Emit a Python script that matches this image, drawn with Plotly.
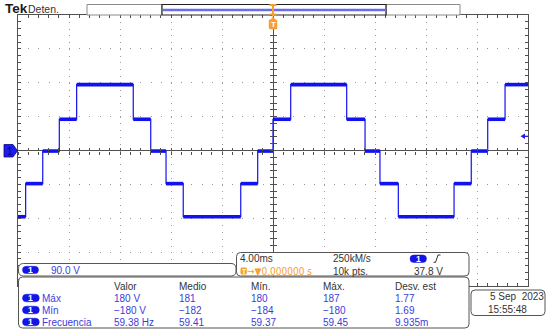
import plotly.graph_objects as go

# ---------------- data ----------------
t_start_ms, t_end_ms = -20.0, 20.0          # 10 div x 4.00 ms, trigger at centre
edge_times_ms = [-19.40, -18.06, -16.76, -15.40, -10.96, -9.59, -8.39, -7.04,
                 -2.53, -1.20, 0.00, 1.39, 5.78, 7.22, 8.39, 9.83,
                 14.20, 15.55, 16.84, 18.20]
step_levels_v = [-176, -88, -1.5, 83, 175, 83, -1.5, -88, -176, -88, -1.5,
                 83, 175, 83, -1.5, -88, -176, -88, -1.5, 83, 175]
volts_per_div = 90.0
trigger_level_v = 37.8

meas_headers = ["Valor", "Medio", "Mín.", "Máx.", "Desv. est"]
meas_rows = ["Máx", "Mín", "Frecuencia"]
meas_valor = ["180 V", "−180 V", "59.38 Hz"]
meas_medio = ["181", "−182", "59.41"]
meas_min = ["180", "−184", "59.37"]
meas_max = ["187", "−180", "59.45"]
meas_desv = ["1.77", "1.69", "9.935m"]

# ---------------- geometry helpers ----------------
W, H = 550, 334
ML, MR, MT, MB = 18, 22, 15, 48
PW, PH = W - ML - MR, H - MT - MB


def X(px):
    return (px - ML) / PW


def Y(py):
    return (H - MB - py) / PH


def rrect(x0, y0, x1, y1, r):
    return (f"M{X(x0 + r)},{Y(y0)} L{X(x1 - r)},{Y(y0)} Q{X(x1)},{Y(y0)} {X(x1)},{Y(y0 + r)} "
            f"L{X(x1)},{Y(y1 - r)} Q{X(x1)},{Y(y1)} {X(x1 - r)},{Y(y1)} "
            f"L{X(x0 + r)},{Y(y1)} Q{X(x0)},{Y(y1)} {X(x0)},{Y(y1 - r)} "
            f"L{X(x0)},{Y(y0 + r)} Q{X(x0)},{Y(y0)} {X(x0 + r)},{Y(y0)} Z")


FONT = "Liberation Sans, Arial, sans-serif"
BLUE_TXT = "#3c3cdc"
DARK_TXT = "#333333"
ORANGE = "#f5a030"
PILL = "#1414e6"
BORDER = "#555555"
AXC = "#505050"
GRIDC = "#9a9a9a"
TRACE = "#1212f0"
NUM = 10       # numeric readouts
WORD = 10      # word labels

shapes, annos = [], []


def txt(s, x, y, color, size=NUM, anchor="left", family=FONT):
    annos.append(dict(text=s, x=X(x), y=Y(y), xref="paper", yref="paper",
                      xanchor=anchor, yanchor="middle", showarrow=False,
                      font=dict(family=family, size=size, color=color),
                      borderpad=0, borderwidth=0))


def box(x0, y0, x1, y1, r, fill="white", line=BORDER, lw=1):
    shapes.append(dict(type="path", path=rrect(x0, y0, x1, y1, r), xref="paper", yref="paper",
                       fillcolor=fill, line=dict(color=line, width=lw), layer="above"))


def pill(x0, y0, x1, y1):
    box(x0, y0, x1, y1, (y1 - y0) / 2, fill=PILL, line=PILL, lw=0.5)
    txt("<b>1</b>", (x0 + x1) / 2, (y0 + y1) / 2 + 0.3, "white", size=8.5, anchor="center")


# ---------------- traces ----------------
bounds = [t_start_ms] + edge_times_ms + [t_end_ms]
fig = go.Figure()
fig.add_trace(go.Scatter(x=bounds, y=step_levels_v + [step_levels_v[-1]], mode="lines",
                         line=dict(color=TRACE, width=1.2, shape="hv"), hoverinfo="skip"))
fx, fy = [], []
for i, lv in enumerate(step_levels_v):
    fx += [bounds[i], bounds[i + 1], None]
    fy += [lv, lv, None]
fig.add_trace(go.Scatter(x=fx, y=fy, mode="lines", line=dict(color=TRACE, width=3.6),
                         hoverinfo="skip"))
# empty traces carrying the centre-crosshair tick axes
fig.add_trace(go.Scatter(x=[], y=[], xaxis="x2", yaxis="y2", hoverinfo="skip"))
fig.add_trace(go.Scatter(x=[], y=[], xaxis="x3", yaxis="y3", hoverinfo="skip"))

yr = [-4 * volts_per_div, 4 * volts_per_div]
xr = [t_start_ms, t_end_ms]
xdiv = (t_end_ms - t_start_ms) / 10
common = dict(showticklabels=False, fixedrange=True)
fig.update_layout(
    width=W, height=H, margin=dict(l=ML, r=MR, t=MT, b=MB, pad=0),
    paper_bgcolor="white", plot_bgcolor="white", showlegend=False,
    xaxis=dict(range=xr, tickmode="linear", tick0=0, dtick=xdiv, ticks="inside", ticklen=3,
               tickcolor=AXC, showgrid=True, gridcolor=GRIDC, griddash="1px,5.78px", gridwidth=1,
               zeroline=True, zerolinecolor=AXC, zerolinewidth=1, showline=True, linecolor=AXC,
               linewidth=1, mirror="ticks",
               minor=dict(tick0=0, dtick=xdiv / 5, ticks="inside", ticklen=3, tickcolor=AXC,
                          showgrid=False), **common),
    yaxis=dict(range=yr, tickmode="linear", tick0=0, dtick=volts_per_div, ticks="inside", ticklen=3,
               tickcolor=AXC, showgrid=True, gridcolor=GRIDC, griddash="1px,9.2px", gridwidth=1,
               zeroline=True, zerolinecolor=AXC, zerolinewidth=1, showline=True, linecolor=AXC,
               linewidth=1, mirror="ticks",
               minor=dict(tick0=0, dtick=volts_per_div / 5, ticks="inside", ticklen=3, tickcolor=AXC,
                          showgrid=False), **common),
    xaxis2=dict(overlaying="x", anchor="free", position=0.5, range=xr, tickmode="linear", tick0=0,
                dtick=xdiv, ticks="outside", ticklen=3, tickcolor=AXC, showgrid=False, zeroline=False,
                showline=False,
                minor=dict(tick0=0, dtick=xdiv / 5, ticks="outside", ticklen=3, tickcolor=AXC), **common),
    xaxis3=dict(overlaying="x", anchor="free", position=0.5, range=xr, tickmode="linear", tick0=0,
                dtick=xdiv, ticks="inside", ticklen=3, tickcolor=AXC, showgrid=False, zeroline=False,
                showline=False,
                minor=dict(tick0=0, dtick=xdiv / 5, ticks="inside", ticklen=3, tickcolor=AXC), **common),
    yaxis2=dict(overlaying="y", anchor="free", position=0.5, range=yr, tickmode="linear", tick0=0,
                dtick=volts_per_div, ticks="outside", ticklen=3, tickcolor=AXC, showgrid=False,
                zeroline=False, showline=False,
                minor=dict(tick0=0, dtick=volts_per_div / 5, ticks="outside", ticklen=3, tickcolor=AXC),
                **common),
    yaxis3=dict(overlaying="y", anchor="free", position=0.5, range=yr, tickmode="linear", tick0=0,
                dtick=volts_per_div, ticks="inside", ticklen=3, tickcolor=AXC, showgrid=False,
                zeroline=False, showline=False,
                minor=dict(tick0=0, dtick=volts_per_div / 5, ticks="inside", ticklen=3, tickcolor=AXC),
                **common),
)

# ---------------- header ----------------
txt("<b>Tek</b>", 5, 8.8, "#1a1a1a", size=13.5)
txt("Deten.", 27.5, 9.3, DARK_TXT, size=10.5)
shapes.append(dict(type="rect", xref="paper", yref="paper", x0=X(87), x1=X(162), y0=Y(4.5), y1=Y(15),
                   line=dict(color="#8a8a8a", width=1), fillcolor="white", layer="above"))
shapes.append(dict(type="rect", xref="paper", yref="paper", x0=X(386), x1=X(460), y0=Y(4.5), y1=Y(15),
                   line=dict(color="#8a8a8a", width=1), fillcolor="white", layer="above"))
shapes.append(dict(type="rect", xref="paper", yref="paper", x0=X(162), x1=X(386), y0=Y(4.5), y1=Y(15),
                   line=dict(color="#222222", width=1.2), fillcolor="white", layer="above"))
shapes.append(dict(type="rect", xref="paper", yref="paper", x0=X(163), x1=X(385), y0=Y(8.3), y1=Y(11.7),
                   line=dict(width=0), fillcolor="#cfcff5", layer="above"))
shapes.append(dict(type="line", xref="paper", yref="paper", x0=X(163), x1=X(385), y0=Y(10), y1=Y(10),
                   line=dict(color="#4a4ae0", width=1.4), layer="above"))
# trigger-position marker (time 0 = centre)
cx = ML + PW / 2
shapes.append(dict(type="rect", xref="paper", yref="paper", x0=X(cx - 1), x1=X(cx + 1), y0=Y(4), y1=Y(16.5),
                   line=dict(width=0), fillcolor=ORANGE, layer="above"))
shapes.append(dict(type="rect", xref="paper", yref="paper", x0=X(cx - 3.5), x1=X(cx + 3.5), y0=Y(4),
                   y1=Y(6), line=dict(width=0), fillcolor=ORANGE, layer="above"))
shapes.append(dict(type="rect", xref="paper", yref="paper", x0=X(cx - 3.5), x1=X(cx + 3.5), y0=Y(13.5),
                   y1=Y(15.5), line=dict(width=0), fillcolor=ORANGE, layer="above"))
box(cx - 4, 19.5, cx + 4, 29, 1.5, fill=ORANGE, line=ORANGE, lw=0.5)
shapes.append(dict(type="path", xref="paper", yref="paper",
                   path=f"M{X(cx - 2.5)},{Y(19.6)} L{X(cx)},{Y(17)} L{X(cx + 2.5)},{Y(19.6)} Z",
                   fillcolor=ORANGE, line=dict(width=0), layer="above"))
txt("<b>T</b>", cx, 24.5, "white", size=8, anchor="center")

# channel-1 ground marker
shapes.append(dict(type="path", xref="paper", yref="paper",
                   path=(f"M{X(4)},{Y(144.5)} L{X(13)},{Y(144.5)} L{X(17.5)},{Y(150.8)} "
                         f"L{X(13)},{Y(157)} L{X(4)},{Y(157)} Z"),
                   fillcolor="#1c1cf0", line=dict(color="#0a0a80", width=0.8), layer="above"))
txt("1", 9.8, 151, "#0a0a60", size=10, anchor="center")

# trigger-level marker on right edge
shapes.append(dict(type="path", xref="paper", yref="y",
                   path=(f"M{X(520.5)},{trigger_level_v} L{X(525)},{trigger_level_v + 7.5} "
                         f"L{X(525)},{trigger_level_v - 7.5} Z"),
                   fillcolor="#1c1cf0", line=dict(width=0), layer="above"))
shapes.append(dict(type="line", xref="paper", yref="y", x0=X(524), x1=X(528), y0=trigger_level_v,
                   y1=trigger_level_v, line=dict(color="#1c1cf0", width=1.2), layer="above"))

# ---------------- bottom panels ----------------
box(18.5, 277, 469, 328, 4)                      # measurements
box(18.5, 263.5, 236, 276, 5)                    # channel scale
box(236.5, 252.5, 469, 276, 4)                   # timebase / trigger
box(471, 290, 545, 315.5, 4)                     # date

pill(22.5, 266.3, 38.5, 273.5)
txt(f"{volts_per_div:.1f} V", 50.5, 270, BLUE_TXT)

txt("4.00ms", 239.5, 258.3, DARK_TXT, size=10)
txt("250kM/s", 333, 258.3, DARK_TXT, size=10)
pill(410, 255, 426.5, 262.5)
shapes.append(dict(type="path", xref="paper", yref="paper",
                   path=f"M{X(433.5)},{Y(262.3)} L{X(435.5)},{Y(262.3)} L{X(438)},{Y(255)} L{X(440.5)},{Y(255)}",
                   line=dict(color=DARK_TXT, width=1), layer="above"))
box(240.8, 267.8, 246.6, 274.2, 1, fill=ORANGE, line=ORANGE, lw=0.5)
txt("<b>T</b>", 243.7, 271.2, "white", size=6.5, anchor="center")
txt("→▼0.000000 s", 247, 271, ORANGE, size=10, family="DejaVu Sans Condensed, Liberation Sans, Arial")
txt("10k pts.", 333, 271, DARK_TXT, size=10)
txt(f"{trigger_level_v:.1f} V", 414, 271, DARK_TXT, size=10)

col_x = [114.3, 179.3, 250.7, 322.7, 395]
row_y = [298, 310, 322]
for hx, htxt in zip(col_x, meas_headers):
    txt(htxt, hx, 286, DARK_TXT, size=WORD)
cols = [meas_valor, meas_medio, meas_min, meas_max, meas_desv]
for r, (ry, rname) in enumerate(zip(row_y, meas_rows)):
    pill(22.5, ry - 3.8, 39.3, ry + 3.8)
    txt(rname, 41.5, ry, BLUE_TXT, size=WORD)
    for cx_, col in zip(col_x, cols):
        txt(col[r], cx_, ry, BLUE_TXT, size=NUM)

txt("5 Sep\u00a0\u00a02023", 543.5, 296, DARK_TXT, size=10, anchor="right")
txt("15:55:48", 527, 309.5, DARK_TXT, size=10, anchor="right")

fig.update_layout(shapes=shapes, annotations=annos)
fig.write_html("out.html", config={"displayModeBar": False},
               post_script="document.body.style.margin='0';document.body.style.overflow='hidden';")
